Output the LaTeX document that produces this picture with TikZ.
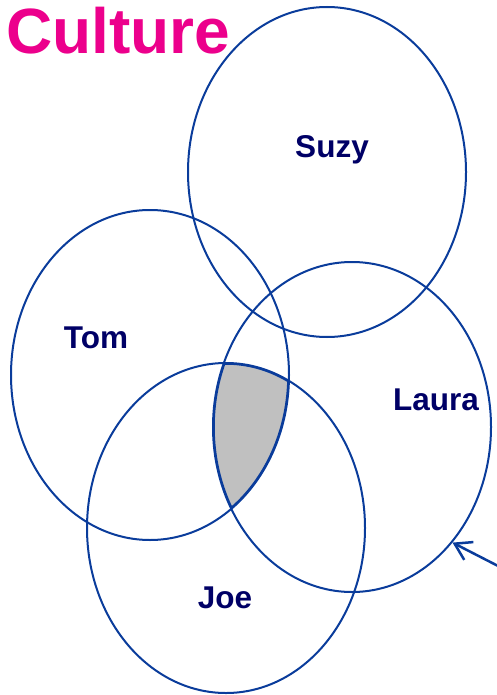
\documentclass[tikz,border=0pt]{standalone}
\usepackage{fontspec}
\setmainfont{Liberation Sans}
\usetikzlibrary{arrows.meta,shapes.geometric}
\definecolor{ringblue}{RGB}{10,60,155}
\definecolor{namenavy}{RGB}{0,0,102}
\definecolor{titlepink}{RGB}{236,0,140}
\definecolor{overlapgray}{RGB}{192,192,192}

\begin{document}
\begin{tikzpicture}[x=1pt,y=-1pt,>={Straight Barb[length=16pt,width=20pt]},
  ring/.style={draw=ringblue,line width=2pt,ellipse,minimum width=278pt,minimum height=330pt,inner sep=0pt},
  who/.style={font=\fontsize{31.5}{36}\selectfont\bfseries,text=namenavy}]
\useasboundingbox (0,0) rectangle (496,695);
\node[font=\fontsize{64}{72}\selectfont\bfseries,text=titlepink,anchor=base west,inner sep=0pt] (title) at (6,54) {Culture};
% shared part of Tom, Laura and Joe
\begin{scope}
  \clip (150,375) ellipse [x radius=139pt,y radius=165pt];
  \clip (352,427) ellipse [x radius=139pt,y radius=165pt];
  \clip (226,528) ellipse [x radius=139pt,y radius=165pt];
  \fill[overlapgray] (0,0) rectangle (496,695);
  \draw[ringblue,line width=3.5pt] (150,375) ellipse [x radius=139pt,y radius=165pt]
    (352,427) ellipse [x radius=139pt,y radius=165pt]
    (226,528) ellipse [x radius=139pt,y radius=165pt];
\end{scope}
\node[ring] (suzy) at (327,172) {};
\node[ring] (tom) at (150,375) {};
\node[ring] (laura) at (352,427) {};
\node[ring] (joe) at (226,528) {};
\node[who] (suzylabel) at (332,150) {Suzy};
\node[who] (tomlabel) at (96,338) {Tom};
\node[who] (lauralabel) at (436,400) {Laura};
\node[who] (joelabel) at (225,598) {Joe};
\coordinate (tail) at (502,568);
\draw[ringblue,line width=2.5pt,->] (tail) -- (laura.-49.2);
\end{tikzpicture}
\end{document}
